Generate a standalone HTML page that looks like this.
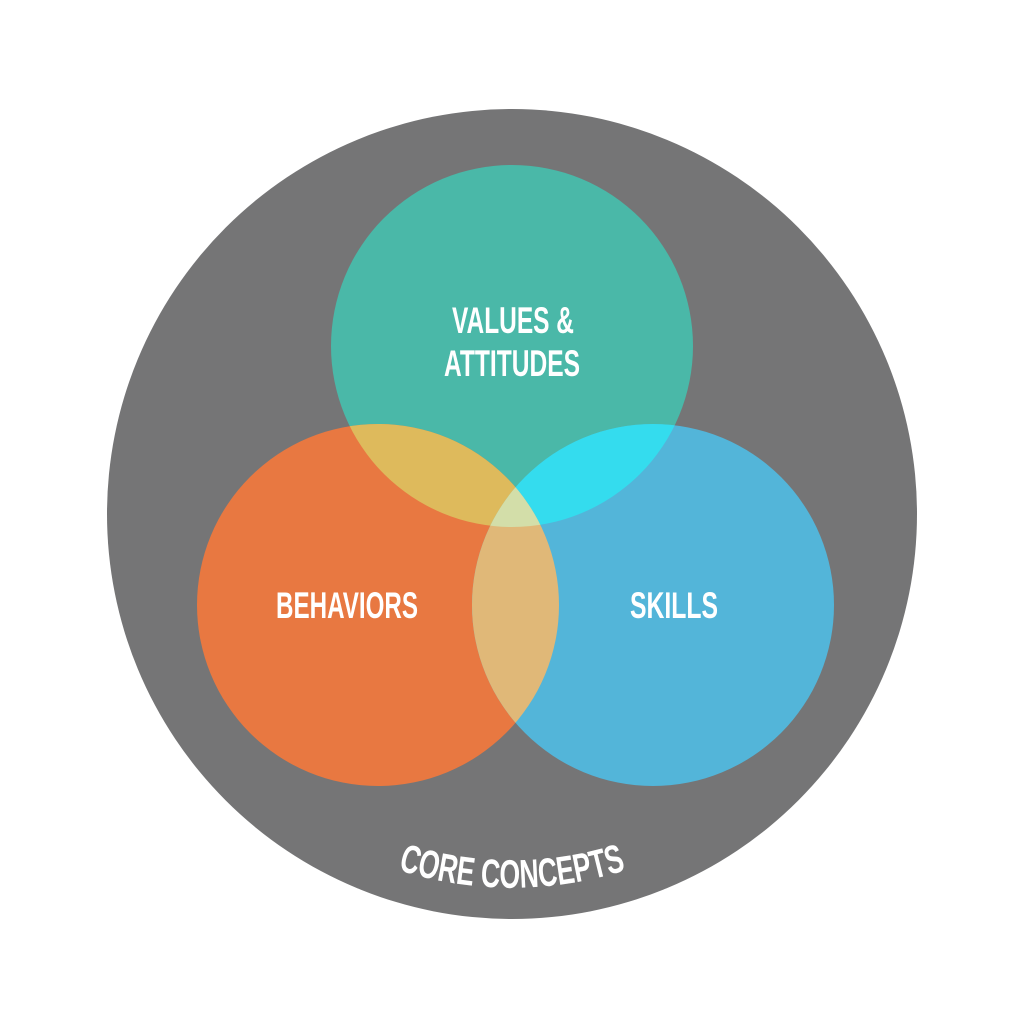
<!DOCTYPE html>
<html><head><style>html,body{margin:0;padding:0;background:#fff}svg{display:block}</style></head><body>
<svg width="1024" height="1024" viewBox="0 0 1024 1024" xmlns="http://www.w3.org/2000/svg">
<defs>
<clipPath id="ct"><circle cx="512" cy="346" r="181"/></clipPath>
<clipPath id="co"><circle cx="378" cy="605" r="181"/></clipPath>
<clipPath id="cb"><circle cx="653" cy="605" r="181"/></clipPath>
<path id="arc" d="M 272 800 A 372 372 0 0 0 752 800"/>
</defs>
<circle cx="512" cy="514" r="405" fill="#757576"/>
<circle cx="512" cy="346" r="181" fill="#4AB8A8"/>
<circle cx="378" cy="605" r="181" fill="#E87841"/>
<circle cx="653" cy="605" r="181" fill="#53B5D9"/>
<circle cx="378" cy="605" r="181" fill="#DEBA5C" clip-path="url(#ct)"/>
<circle cx="653" cy="605" r="181" fill="#34DCEE" clip-path="url(#ct)"/>
<g clip-path="url(#co)"><circle cx="653" cy="605" r="181" fill="#E0B878"/></g>
<g clip-path="url(#ct)"><g clip-path="url(#co)"><circle cx="653" cy="605" r="181" fill="#D3DEA9"/></g></g>
<g fill="#fff" font-family="'Liberation Sans Narrow','Liberation Sans',sans-serif" font-weight="bold" font-size="37">
<text x="452" y="333" textLength="122" lengthAdjust="spacingAndGlyphs">VALUES &amp;</text>
<text x="444" y="376" textLength="136" lengthAdjust="spacingAndGlyphs">ATTITUDES</text>
<text x="276" y="618" textLength="142" lengthAdjust="spacingAndGlyphs">BEHAVIORS</text>
<text x="630" y="618" textLength="88" lengthAdjust="spacingAndGlyphs">SKILLS</text>
<text font-size="40"><textPath href="#arc" startOffset="50%" text-anchor="middle" textLength="232" lengthAdjust="spacingAndGlyphs">CORE CONCEPTS</textPath></text>
</g>
</svg>
</body></html>
